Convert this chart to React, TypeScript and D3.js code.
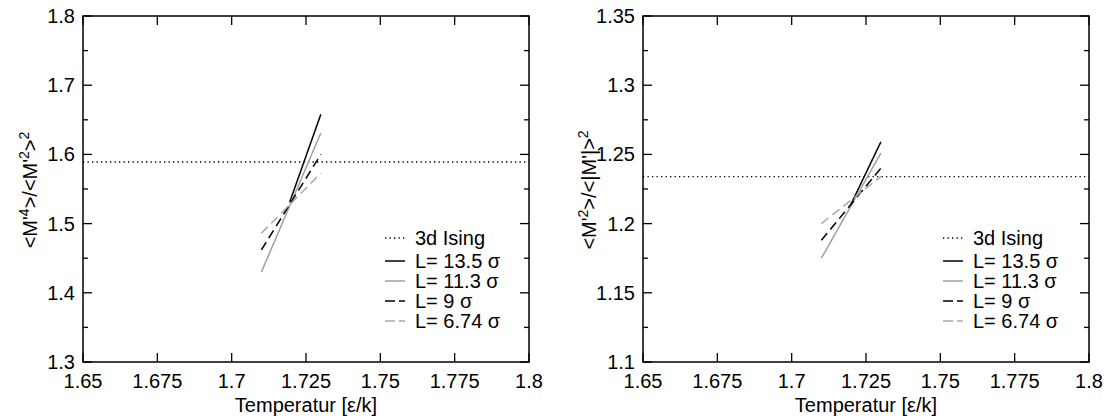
import React from "react";
import * as d3 from "d3";

const xTicks = [1.65, 1.675, 1.7, 1.725, 1.75, 1.775, 1.8];
const leftYTicks = [1.3, 1.4, 1.5, 1.6, 1.7, 1.8];
const rightYTicks = [1.1, 1.15, 1.2, 1.25, 1.3, 1.35];

const leftIsing = 1.589;
const rightIsing = 1.234;

const seriesNames = ["L= 13.5 σ", "L= 11.3 σ", "L= 9 σ", "L= 6.74 σ"];
// [T, value] endpoints
const leftSeries: [number, number][][] = [
  [[1.7195, 1.531], [1.73, 1.658]],
  [[1.71, 1.43], [1.73, 1.631]],
  [[1.71, 1.462], [1.73, 1.6]],
  [[1.71, 1.486], [1.73, 1.573]],
];
const rightSeries: [number, number][][] = [
  [[1.7195, 1.212], [1.73, 1.259]],
  [[1.71, 1.175], [1.73, 1.251]],
  [[1.71, 1.188], [1.73, 1.24]],
  [[1.71, 1.2], [1.73, 1.234]],
];

const styles = [
  { stroke: "#000", dash: "" },
  { stroke: "#a0a0a0", dash: "" },
  { stroke: "#000", dash: "9,5" },
  { stroke: "#a8a8a8", dash: "9,5" },
];

const FONT = "Liberation Sans, Arial, Helvetica, sans-serif";
const FS = 20;

function Panel({ x0, yTicks, yDomain, series, ising, yFmt, label, legendX }: any) {
  const top = 16, bottom = 362, width = 446;
  const x = d3.scaleLinear().domain([1.65, 1.8]).range([x0, x0 + width]);
  const y = d3.scaleLinear().domain(yDomain).range([bottom, top]);
  const step = yTicks[1] - yTicks[0];
  const minor = yTicks.slice(0, -1).map((t: number) => t + step / 2);
  const line = d3.line<[number, number]>().x((d) => x(d[0])).y((d) => y(d[1]));
  const legendRows = [238, 261, 281, 301, 321];
  return (
    <g>
      {xTicks.map((t, i) => (
        <g key={"xt" + i}>
          <line x1={x(t)} x2={x(t)} y1={bottom} y2={bottom - 9} stroke="#000" strokeWidth={1.3} />
          <line x1={x(t)} x2={x(t)} y1={top} y2={top + 9} stroke="#000" strokeWidth={1.3} />
          <text x={x(t)} y={381} textAnchor="middle" dominantBaseline="central" fontSize={FS} fontFamily={FONT}>
            {String(t)}
          </text>
        </g>
      ))}
      {yTicks.map((t: number, i: number) => (
        <g key={"yt" + i}>
          <line x1={x0} x2={x0 + 9} y1={y(t)} y2={y(t)} stroke="#000" strokeWidth={1.3} />
          <line x1={x0 + width} x2={x0 + width - 9} y1={y(t)} y2={y(t)} stroke="#000" strokeWidth={1.3} />
          <text x={x0 - 8} y={y(t)} textAnchor="end" dominantBaseline="central" fontSize={FS} fontFamily={FONT}>
            {yFmt(t)}
          </text>
        </g>
      ))}
      {minor.map((t: number, i: number) => (
        <g key={"ym" + i}>
          <line x1={x0} x2={x0 + 5} y1={y(t)} y2={y(t)} stroke="#000" strokeWidth={1.3} />
          <line x1={x0 + width} x2={x0 + width - 5} y1={y(t)} y2={y(t)} stroke="#000" strokeWidth={1.3} />
        </g>
      ))}
      <line x1={x0} x2={x0 + width} y1={y(ising)} y2={y(ising)} stroke="#000" strokeWidth={1.3} strokeDasharray="1.3,3.2" />
      {series.map((s: [number, number][], i: number) => (
        <path key={"s" + i} d={line(s) || ""} fill="none" stroke={styles[i].stroke} strokeWidth={1.5} strokeDasharray={styles[i].dash} />
      ))}
      <line x1={legendX} x2={legendX + 20} y1={legendRows[0]} y2={legendRows[0]} stroke="#000" strokeWidth={1.3} strokeDasharray="1.3,3.2" />
      <text x={legendX + 30} y={legendRows[0]} dominantBaseline="central" fontSize={FS} fontFamily={FONT}>3d Ising</text>
      {seriesNames.map((n, i) => (
        <g key={"lg" + i}>
          <line x1={legendX} x2={legendX + 20} y1={legendRows[i + 1]} y2={legendRows[i + 1]} stroke={styles[i].stroke} strokeWidth={1.5} strokeDasharray={styles[i].dash ? "10,4" : ""} />
          <text x={legendX + 30} y={legendRows[i + 1]} dominantBaseline="central" fontSize={FS} fontFamily={FONT}>{n}</text>
        </g>
      ))}
      <rect x={x0} y={top} width={width} height={bottom - top} fill="none" stroke="#000" strokeWidth={1.5} />
      <text x={x0 + width / 2} y={405} textAnchor="middle" dominantBaseline="central" fontSize={FS} fontFamily={FONT}>
        Temperatur [ε/k]
      </text>
      {label}
    </g>
  );
}

export default function App() {
  const leftLabel = (
    <text transform="translate(37,190) rotate(-90)" textAnchor="middle" fontSize={FS} fontFamily={FONT}>
      <tspan>{"<M'"}</tspan>
      <tspan dy={-8} fontSize={14}>4</tspan>
      <tspan dy={8}>{">/<M'"}</tspan>
      <tspan dy={-8} fontSize={14}>2</tspan>
      <tspan dy={8}>{">"}</tspan>
      <tspan dy={-8} fontSize={14}>2</tspan>
    </text>
  );
  const rightLabel = (
    <text transform="translate(596,190) rotate(-90)" textAnchor="middle" fontSize={FS} fontFamily={FONT}>
      <tspan>{"<M'"}</tspan>
      <tspan dy={-8} fontSize={14}>2</tspan>
      <tspan dy={8}>{">/<|M'|>"}</tspan>
      <tspan dy={-8} fontSize={14}>2</tspan>
    </text>
  );
  return (
    <svg width={1107} height={418} style={{ position: "absolute", left: 0, top: 0, background: "#fff" }}>
      <Panel x0={83} yTicks={leftYTicks} yDomain={[1.3, 1.8]} series={leftSeries} ising={leftIsing}
        yFmt={(t: number) => String(t)} label={leftLabel} legendX={385} />
      <Panel x0={643} yTicks={rightYTicks} yDomain={[1.1, 1.35]} series={rightSeries} ising={rightIsing}
        yFmt={(t: number) => String(+t.toFixed(2))} label={rightLabel} legendX={943} />
    </svg>
  );
}
